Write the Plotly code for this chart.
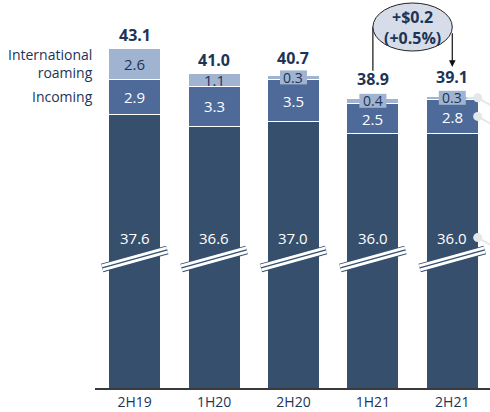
import plotly.graph_objects as go

# Revenue by half-year, split into components
periods = ["2H19", "1H20", "2H20", "1H21", "2H21"]
base_rev = [37.6, 36.6, 37.0, 36.0, 36.0]
incoming = [2.9, 3.3, 3.5, 2.5, 2.8]
intl_roaming = [2.6, 1.1, 0.3, 0.4, 0.3]
totals = [43.1, 41.0, 40.7, 38.9, 39.1]
segment_names = ["International<br>roaming", "Incoming"]

C_BASE = "#354f6d"
C_INC = "#4e6a99"
C_ROAM = "#a0b3d1"
C_TEXT = "#1d3457"
FONT = "Open Sans"

Y_MIN, Y_MAX = 14.77, 47.1      # truncated value axis (broken bars)
BREAK_Y0, BREAK_Y1 = 24.77, 26.27
BASE_LABEL_Y = 27.3
BAR_W = 0.655

xs = list(range(len(periods)))

fig = go.Figure()
for vals, col in [(base_rev, C_BASE), (incoming, C_INC), (intl_roaming, C_ROAM)]:
    fig.add_bar(
        x=xs, y=vals, width=BAR_W,
        marker=dict(color=col, line=dict(color="white", width=1)),
        hoverinfo="skip",
    )

shapes = []
annotations = []

# axis-break marks across every bar
for i in xs:
    for col, w in [(C_BASE, 9), ("white", 7), (C_BASE, 1.3)]:
        shapes.append(dict(type="line", xref="x", yref="y",
                           x0=i - 0.41, x1=i + 0.41, y0=BREAK_Y0, y1=BREAK_Y1,
                           line=dict(color=col, width=w)))

for i in xs:
    b, inc, r = base_rev[i], incoming[i], intl_roaming[i]
    thin = r < 1.0
    annotations.append(dict(x=i, y=totals[i], text=f"<b>{totals[i]:.1f}</b>",
                            yanchor="bottom", yshift=7 if thin else 1, showarrow=False,
                            borderpad=0,
                            font=dict(size=16, color=C_TEXT, family=FONT)))
    annotations.append(dict(x=i, y=b + inc / 2, text=f"{inc:.1f}", showarrow=False,
                            borderpad=0, yshift=-1 if thin else 0,
                            font=dict(size=15, color="white", family=FONT)))
    if thin:
        # label plate for segments too thin to hold their value
        shapes.append(dict(type="rect", xref="x", yref="y",
                           xsizemode="pixel", ysizemode="pixel",
                           xanchor=i, yanchor=b + inc + r / 2,
                           x0=-13.5, x1=13.5, y0=-7, y1=7,
                           fillcolor=C_ROAM, line=dict(width=0)))
    annotations.append(dict(x=i, y=b + inc + r / 2, text=f"{r:.1f}", showarrow=False,
                            borderpad=0,
                            font=dict(size=14 if thin else 15, color=C_TEXT, family=FONT)))
    annotations.append(dict(x=i, y=BASE_LABEL_Y, text=f"{b:.1f}", showarrow=False,
                            borderpad=0,
                            font=dict(size=15, color="white", family=FONT)))

# segment names beside the first bar
annotations.append(dict(xref="paper", x=0, y=base_rev[0] + incoming[0] + intl_roaming[0] / 2,
                        text=segment_names[0], xanchor="right", align="right", showarrow=False,
                        font=dict(size=14, color=C_TEXT, family=FONT)))
annotations.append(dict(xref="paper", x=0, y=base_rev[0] + incoming[0] / 2,
                        text=segment_names[1], xanchor="right", align="right", showarrow=False,
                        font=dict(size=14, color=C_TEXT, family=FONT)))

# change between the last two periods
delta = totals[-1] - totals[-2]
pct = delta / totals[-2] * 100
ELL_Y0, ELL_Y1 = 42.85, 46.85
ell_mid = (ELL_Y0 + ELL_Y1) / 2
shapes.append(dict(type="line", xref="x", yref="y", x0=3, x1=3, y0=41.2, y1=ell_mid,
                   line=dict(color="#111111", width=1.2)))
shapes.append(dict(type="circle", xref="x", yref="y", x0=3, x1=4, y0=ELL_Y0, y1=ELL_Y1,
                   fillcolor="#d6dde9", line=dict(color="#222222", width=1)))
annotations.append(dict(x=3.5, y=ell_mid, text=f"<b>+${delta:.1f}<br>(+{pct:.1f}%)</b>",
                        showarrow=False,
                        font=dict(size=16, color=C_TEXT, family=FONT)))
annotations.append(dict(x=4, y=41.52, ax=4, ay=44.45, xref="x", yref="y", axref="x", ayref="y",
                        text="", showarrow=True, arrowhead=2, arrowsize=1.1, arrowwidth=1.2,
                        arrowcolor="#111111"))

# leader dots on the right of the last bar
b, inc, r = base_rev[-1], incoming[-1], intl_roaming[-1]
for yv, left in [(b + inc + r / 2, 11), (b + inc / 2, 0), (BASE_LABEL_Y, 0)]:
    common = dict(xref="x", yref="y", xsizemode="pixel", ysizemode="pixel",
                  xanchor=4.32, yanchor=yv)
    shapes.append(dict(type="line", x0=0, x1=16, y0=0, y1=-9,
                       line=dict(color="#e4e7eb", width=2), **common))
    if left:
        shapes.append(dict(type="line", x0=-left, x1=0, y0=0, y1=0,
                           line=dict(color="#e4e7eb", width=2), **common))
    shapes.append(dict(type="circle", x0=-4.5, x1=4.5, y0=-4.5, y1=4.5,
                       fillcolor="#e4e7eb", line=dict(width=0), **common))

fig.update_layout(
    barmode="stack",
    width=490, height=412,
    margin=dict(l=95, r=0, t=0, b=24),
    paper_bgcolor="white", plot_bgcolor="white",
    showlegend=False,
    font=dict(family=FONT, color=C_TEXT),
    shapes=shapes,
    annotations=annotations,
    xaxis=dict(range=[-0.5, 4.475], tickvals=xs, ticktext=periods,
               showline=True, linecolor="#3a3a3a", linewidth=1.5,
               showgrid=False, zeroline=False, ticks="",
               tickfont=dict(size=14, color=C_TEXT, family=FONT)),
    yaxis=dict(range=[Y_MIN, Y_MAX], visible=False, showgrid=False, zeroline=False),
)

fig.write_html("out.html")
